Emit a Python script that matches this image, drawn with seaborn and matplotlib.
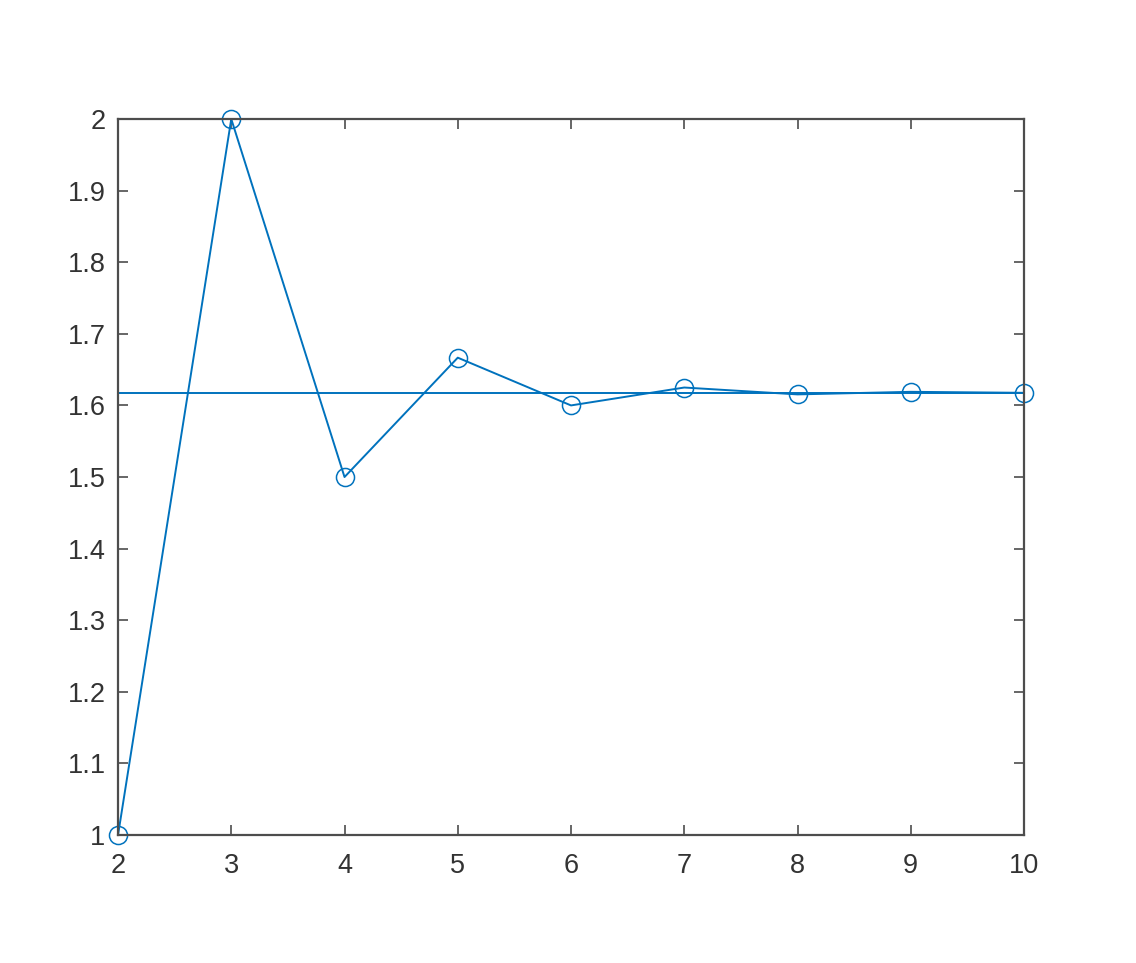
import pandas as pd
import matplotlib.pyplot as plt
import seaborn as sns

# ratio of consecutive Fibonacci numbers F(n+1)/F(n)
n = [2, 3, 4, 5, 6, 7, 8, 9, 10]
ratio = [1.0, 2.0, 1.5, 1.6667, 1.6, 1.625, 1.6154, 1.6190, 1.6176]
golden = 1.618

xticks = [2, 3, 4, 5, 6, 7, 8, 9, 10]
yticks = [1, 1.1, 1.2, 1.3, 1.4, 1.5, 1.6, 1.7, 1.8, 1.9, 2]

data = pd.DataFrame({'n': n, 'ratio': ratio})

sns.set_style('white')
plt.rcParams['font.family'] = ['Liberation Sans', 'DejaVu Sans']

blue = '#0072BD'
axcol = '#4d4d4d'

fig = plt.figure(figsize=(11.36, 9.63), dpi=100)
ax = fig.add_axes([0.1039, 0.1329, 0.7975, 0.7435])

sns.lineplot(data=data, x='n', y='ratio', color=blue, linewidth=1.4,
             marker='o', markersize=13, markerfacecolor='none',
             markeredgecolor=blue, markeredgewidth=1.1, ax=ax, clip_on=False)
ax.axhline(golden, color=blue, linewidth=1.4)

ax.set_xlim(2, 10)
ax.set_ylim(1, 2)
ax.set_xticks(xticks)
ax.set_yticks(yticks)
ax.set_xticklabels([str(t) for t in xticks])
ax.set_yticklabels(['1', '1.1', '1.2', '1.3', '1.4', '1.5', '1.6', '1.7', '1.8', '1.9', '2'])
ax.set_xlabel('')
ax.set_ylabel('')

for s in ax.spines.values():
    s.set_visible(True)
    s.set_color(axcol)
    s.set_linewidth(1.6)
ax.tick_params(direction='in', length=7, width=1.2, color=axcol,
               labelsize=19.5, labelcolor='#333333',
               top=True, right=True, bottom=True, left=True)
ax.tick_params(axis='x', pad=13)
ax.tick_params(axis='y', pad=9)

fig.savefig('out.png', dpi=100, facecolor='white')
